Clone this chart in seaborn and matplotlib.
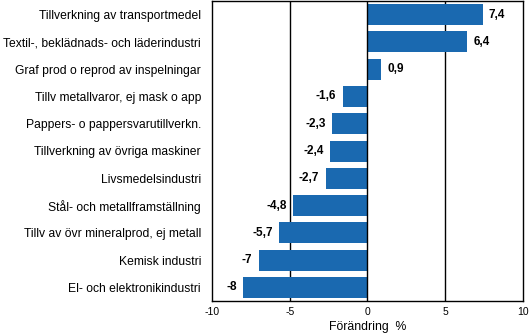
import matplotlib
matplotlib.use("Agg")
import matplotlib.pyplot as plt
import seaborn as sns
import pandas as pd

categories = [
    "Tillverkning av transportmedel",
    "Textil-, beklädnads- och läderindustri",
    "Graf prod o reprod av inspelningar",
    "Tillv metallvaror, ej mask o app",
    "Pappers- o pappersvarutillverkn.",
    "Tillverkning av övriga maskiner",
    "Livsmedelsindustri",
    "Stål- och metallframställning",
    "Tillv av övr mineralprod, ej metall",
    "Kemisk industri",
    "El- och elektronikindustri",
]
values = [7.4, 6.4, 0.9, -1.6, -2.3, -2.4, -2.7, -4.8, -5.7, -7, -8]
value_labels = ["7,4", "6,4", "0,9", "-1,6", "-2,3", "-2,4", "-2,7", "-4,8", "-5,7", "-7", "-8"]
xticks = [-10, -5, 0, 5, 10]
xlabel = "Förändring  %"

sns.set_theme(style="white")
plt.rcParams["font.family"] = ["Liberation Sans", "DejaVu Sans"]
plt.rcParams["text.color"] = "black"
plt.rcParams["xtick.color"] = "black"
plt.rcParams["ytick.color"] = "black"
plt.rcParams["axes.labelcolor"] = "black"

df = pd.DataFrame({"cat": categories, "val": values})

fig = plt.figure(figsize=(5.29, 3.36), dpi=100)
ax = fig.add_axes([212/529, 1 - 301/336, (523-212)/529, 300/336])

sns.barplot(data=df, x="val", y="cat", orient="h", color="#1a69b0",
            saturation=1, width=0.77, linewidth=0, ax=ax, zorder=3)

for xv in [-5, 5]:
    ax.axvline(xv, color="black", lw=1, zorder=2)
ax.axvline(0, color="black", lw=1, zorder=4)

ax.set_xlim(-10, 10)
ax.set_ylim(len(categories) - 0.5, -0.5)
ax.set_xticks(xticks)
ax.set_xticklabels([str(t) for t in xticks], fontsize=7.5)
ax.tick_params(axis="x", length=0, pad=4)
ax.tick_params(axis="y", length=0, pad=8, labelsize=8.7)
ax.set_xlabel(xlabel, fontsize=8.8, labelpad=3)
ax.set_ylabel("")
for s in ax.spines.values():
    s.set_color("black")
    s.set_linewidth(1)

for i, (v, lab) in enumerate(zip(values, value_labels)):
    if v >= 0:
        ax.annotate(lab, (v, i), xytext=(4.5, 0), textcoords="offset points",
                    ha="left", va="center", fontsize=8.5, fontweight="bold")
    else:
        ax.annotate(lab, (v, i), xytext=(-4.5, 0), textcoords="offset points",
                    ha="right", va="center", fontsize=8.5, fontweight="bold")

fig.savefig("out.png", dpi=100)
